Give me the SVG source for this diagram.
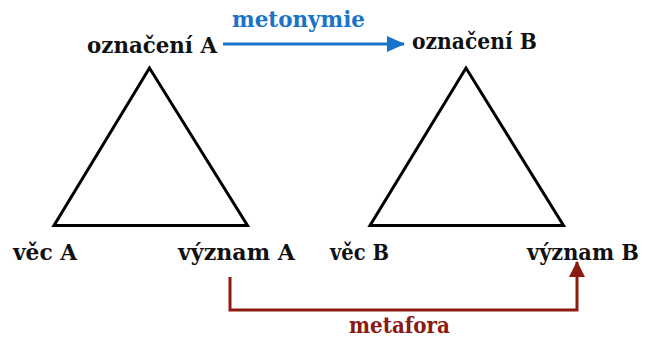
<svg xmlns="http://www.w3.org/2000/svg" width="646" height="339" viewBox="0 0 646 339">
<style>
text{font-family:"DejaVu Serif","Liberation Serif",serif;font-weight:bold;font-size:23px;fill:#111}
.tri{fill:none;stroke:#000;stroke-width:3;stroke-linejoin:miter}
.blue{fill:#1874c8}
.red{fill:#8b1a10}
</style>
<defs>
<marker id="ab" markerWidth="18" markerHeight="16" refX="17" refY="8" orient="auto" markerUnits="userSpaceOnUse"><path d="M0,0 L18,8 L0,16 Z" fill="#1874c8"/></marker>
<marker id="ar" markerWidth="16" markerHeight="16" refX="15" refY="8" orient="auto" markerUnits="userSpaceOnUse"><path d="M0,0 L16,8 L0,16 Z" fill="#8b1a10"/></marker>
</defs>
<g id="triangleA"><polygon class="tri" points="149.5,68 54,225.5 247.5,225.5"/></g>
<g id="triangleB"><polygon class="tri" points="466,68 370,225.5 563.5,225.5"/></g>
<g id="oznaceniA"><text x="87" y="53" textLength="130" lengthAdjust="spacingAndGlyphs">označení A</text></g>
<g id="oznaceniB"><text x="412" y="49" textLength="125" lengthAdjust="spacingAndGlyphs">označení B</text></g>
<g id="vecA"><text x="13" y="260" textLength="64" lengthAdjust="spacingAndGlyphs">věc A</text></g>
<g id="vyznamA"><text x="178" y="260" textLength="117" lengthAdjust="spacingAndGlyphs">význam A</text></g>
<g id="vecB"><text x="330" y="260" textLength="59" lengthAdjust="spacingAndGlyphs">věc B</text></g>
<g id="vyznamB"><text x="639" y="260" text-anchor="end" textLength="112" lengthAdjust="spacingAndGlyphs">význam B</text></g>
<g id="connectors">
<line x1="223" y1="44" x2="404" y2="44" stroke="#1874c8" stroke-width="3" marker-end="url(#ab)"/>
<text class="blue" x="232" y="27" textLength="133" lengthAdjust="spacingAndGlyphs">metonymie</text>
<polyline points="230,277 230,310 577,310 577,262" fill="none" stroke="#8b1a10" stroke-width="3" marker-end="url(#ar)"/>
<text class="red" x="349" y="333" textLength="101" lengthAdjust="spacingAndGlyphs">metafora</text>
</g>
</svg>
